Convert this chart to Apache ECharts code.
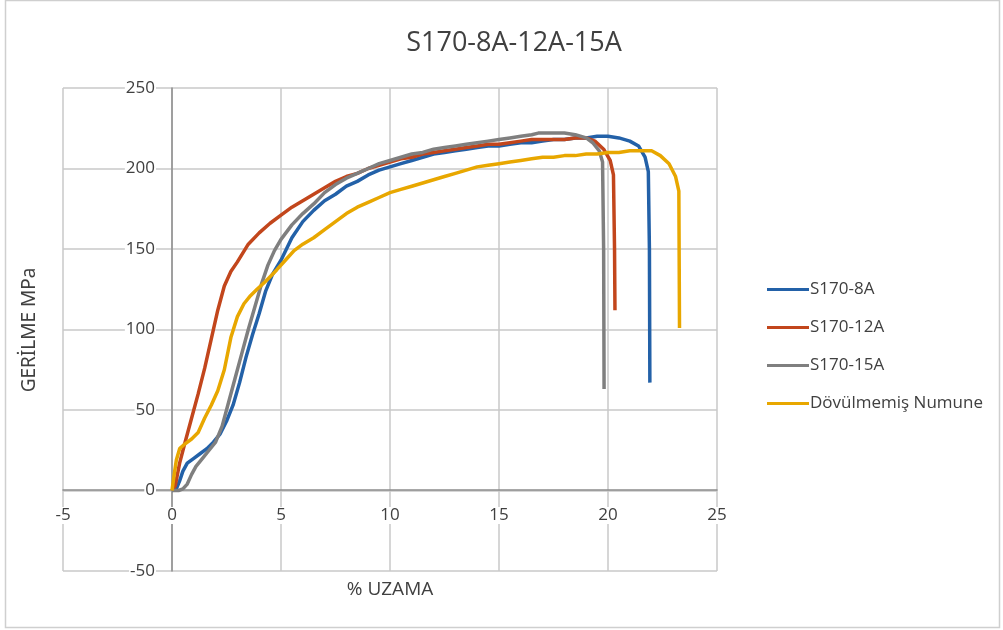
<!DOCTYPE html>
<html>
<head>
<meta charset="utf-8">
<script src="https://cdn.jsdelivr.net/npm/echarts@6/dist/echarts.min.js"></script>
<style>
  html, body { margin: 0; padding: 0; background: #fff; }
  #chart { width: 1003px; height: 630px; }
</style>
</head>
<body>
<div id="chart"></div>
<script>
// strain (%) / stress (MPa) pairs
var s8A = [
    [0, 0], [0.2, 1], [0.35, 6], [0.5, 12], [0.7, 17], [1.0, 20], [1.3, 23], [1.6, 26], [1.9, 30],
    [2.2, 35], [2.5, 43], [2.8, 53], [3.1, 67], [3.4, 83], [3.7, 97], [4.0, 110], [4.3, 124],
    [4.6, 134], [5.0, 143], [5.5, 157], [6.0, 167], [6.5, 174], [7.0, 180], [7.5, 184], [8.0, 189],
    [8.5, 192], [9.0, 196], [9.5, 199], [10, 201], [10.5, 203], [11, 205], [11.5, 207], [12, 209],
    [12.5, 210], [13, 211], [13.5, 212], [14, 213], [14.5, 214], [15, 214], [15.5, 215], [16, 216],
    [16.5, 216], [17, 217], [17.5, 218], [18, 218], [18.5, 219], [19, 219], [19.5, 220], [20, 220],
    [20.5, 219], [21, 217], [21.4, 214], [21.7, 207], [21.85, 198], [21.9, 150], [21.92, 67]
];
var s12A = [
    [0, 0], [0.15, 3], [0.35, 17], [0.6, 30], [0.9, 45], [1.2, 60], [1.5, 76], [1.8, 94], [2.1, 112],
    [2.4, 127], [2.7, 136], [3.0, 142], [3.5, 153], [4.0, 160], [4.5, 166], [5.0, 171], [5.5, 176],
    [6.0, 180], [6.5, 184], [7.0, 188], [7.5, 192], [8.0, 195], [8.5, 197], [9.0, 200], [9.5, 202],
    [10, 204], [10.5, 206], [11, 207], [11.5, 209], [12, 210], [12.5, 211], [13, 212], [13.5, 213],
    [14, 214], [14.5, 215], [15, 215], [15.5, 216], [16, 217], [16.5, 218], [17, 218], [17.5, 218],
    [18, 218], [18.5, 219], [19, 219], [19.4, 217], [19.8, 212], [20.1, 205], [20.25, 196],
    [20.3, 150], [20.32, 112]
];
var s15A = [
    [0, 0], [0.3, 0], [0.5, 1], [0.7, 4], [0.9, 10], [1.1, 15], [1.4, 20], [1.7, 25], [2.0, 30],
    [2.3, 40], [2.6, 55], [2.9, 70], [3.2, 85], [3.5, 100], [3.8, 114], [4.1, 128], [4.4, 140],
    [4.7, 149], [5.0, 156], [5.5, 165], [6.0, 172], [6.5, 178], [7.0, 185], [7.5, 190], [8.0, 194],
    [8.5, 197], [9.0, 200], [9.5, 203], [10, 205], [10.5, 207], [11, 209], [11.5, 210], [12, 212],
    [12.5, 213], [13, 214], [13.5, 215], [14, 216], [14.5, 217], [15, 218], [15.5, 219], [16, 220],
    [16.5, 221], [16.8, 222], [17, 222], [17.5, 222], [18, 222], [18.5, 221], [19, 219], [19.3, 216],
    [19.6, 211], [19.75, 204], [19.8, 150], [19.82, 63]
];
var dovulmemis = [
    [0, 0], [0.1, 10], [0.2, 19], [0.35, 26], [0.6, 29], [0.9, 32], [1.2, 36], [1.5, 45], [1.8, 53],
    [2.1, 62], [2.4, 75], [2.7, 95], [3.0, 108], [3.3, 116], [3.6, 121], [3.9, 125], [4.3, 130],
    [4.8, 137], [5.2, 143], [5.6, 149], [6.0, 153], [6.5, 157], [7.0, 162], [7.5, 167], [8.0, 172],
    [8.5, 176], [9.0, 179], [9.5, 182], [10, 185], [10.5, 187], [11, 189], [11.5, 191], [12, 193],
    [12.5, 195], [13, 197], [13.5, 199], [14, 201], [14.5, 202], [15, 203], [15.5, 204], [16, 205],
    [16.5, 206], [17, 207], [17.5, 207], [18, 208], [18.5, 208], [19, 209], [19.5, 209], [20, 210],
    [20.5, 210], [21, 211], [21.5, 211], [22, 211], [22.4, 208], [22.8, 203], [23.1, 195],
    [23.25, 186], [23.28, 101]
];

var seriesNames = ['S170-8A', 'S170-12A', 'S170-15A', 'Dövülmemiş Numune'];
var seriesData = [s8A, s12A, s15A, dovulmemis];
var colors = ['#2361a8', '#c2461c', '#7f7f7f', '#e8a700'];

var textColor = '#404040';
var font = 'Open Sans';

var series = seriesNames.map(function (name, i) {
    return {
        name: name,
        type: 'line',
        data: seriesData[i],
        showSymbol: false,
        symbol: 'none',
        lineStyle: { color: colors[i], width: 3.5 },
        itemStyle: { color: colors[i] }
    };
});

// grid is 63..717 x 88..571; the axes sit at x=0 / y=0, so shift them with offset
var option = {
    backgroundColor: '#fff',
    animation: false,
    color: colors,
    title: {
        text: 'S170-8A-12A-15A',
        left: 509,
        top: 25,
        textAlign: 'center',
        textStyle: { color: textColor, fontSize: 27, fontWeight: 'normal', fontFamily: font }
    },
    legend: {
        orient: 'vertical',
        left: 762,
        top: 276,
        itemGap: 21,
        itemWidth: 42,
        itemHeight: 3,
        icon: 'rect',
        textStyle: { color: textColor, fontSize: 17, fontFamily: font, padding: [0, 0, 0, -4] },
        data: seriesNames
    },
    grid: { left: 63, right: 286, top: 88, bottom: 59, containLabel: false },
    xAxis: {
        type: 'value',
        min: -5,
        max: 25,
        interval: 5,
        offset: -81,
        axisLine: { onZero: false, lineStyle: { color: '#8c8c8c', width: 1.5 } },
        axisTick: { show: false },
        axisLabel: {
            color: textColor, fontSize: 17, fontFamily: font, margin: 17,
            backgroundColor: '#fff', padding: [0, 1]
        },
        splitLine: { show: true, lineStyle: { color: '#c8c8c8', width: 1.5 } }
    },
    yAxis: {
        type: 'value',
        min: -50,
        max: 250,
        interval: 50,
        offset: -109,
        axisLine: { show: true, onZero: false, lineStyle: { color: '#8c8c8c', width: 1.5 } },
        axisTick: { show: false },
        axisLabel: {
            color: textColor, fontSize: 17, fontFamily: font, margin: 16,
            backgroundColor: '#fff', padding: [0, 1]
        },
        splitLine: { show: true, lineStyle: { color: '#c8c8c8', width: 1.5 } }
    },
    graphic: [
        {
            type: 'rect',
            shape: { x: 5.5, y: 0.5, width: 994, height: 627 },
            style: { fill: 'none', stroke: '#cfcfcf', lineWidth: 1.5 },
            silent: true
        },
        {
            type: 'text',
            x: 390,
            y: 590,
            style: {
                text: '% UZAMA', fill: textColor, font: '19px "Open Sans"',
                align: 'center', verticalAlign: 'middle'
            }
        },
        {
            type: 'text',
            x: 30,
            y: 330,
            rotation: Math.PI / 2,
            style: {
                text: 'GERİLME MPa', fill: textColor, font: '19px "Noto Sans"',
                align: 'center', verticalAlign: 'middle'
            }
        }
    ],
    series: series
};

var chart = echarts.init(document.getElementById('chart'));
chart.setOption(option);
</script>
</body>
</html>
